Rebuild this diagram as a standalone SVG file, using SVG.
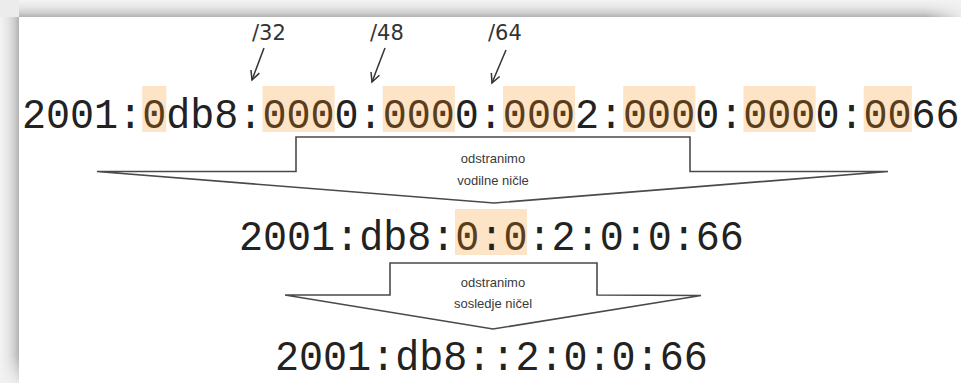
<svg xmlns="http://www.w3.org/2000/svg" width="961" height="383" viewBox="0 0 961 383">
<defs>
  <linearGradient id="gTop" x1="0" y1="0" x2="0" y2="1">
    <stop offset="0" stop-color="#f4f4f4"/>
    <stop offset="0.45" stop-color="#e4e4e4"/>
    <stop offset="0.75" stop-color="#cfcfcf"/>
    <stop offset="1" stop-color="#b2b2b2"/>
  </linearGradient>
  <linearGradient id="gLeft" x1="0" y1="0" x2="1" y2="0">
    <stop offset="0" stop-color="#f4f4f4"/>
    <stop offset="0.45" stop-color="#e4e4e4"/>
    <stop offset="0.75" stop-color="#cfcfcf"/>
    <stop offset="1" stop-color="#b2b2b2"/>
  </linearGradient>
  <linearGradient id="gFadeR" x1="0" y1="0" x2="1" y2="0">
    <stop offset="0" stop-color="#f2f2f2" stop-opacity="0"/>
    <stop offset="1" stop-color="#f2f2f2" stop-opacity="0.85"/>
  </linearGradient>
  <linearGradient id="gFadeB" x1="0" y1="0" x2="0" y2="1">
    <stop offset="0" stop-color="#f2f2f2" stop-opacity="0"/>
    <stop offset="1" stop-color="#f2f2f2" stop-opacity="0.85"/>
  </linearGradient>
  <marker id="ah" viewBox="-11 -6 13 12" markerWidth="13" markerHeight="12" refX="0" refY="0" orient="auto" markerUnits="userSpaceOnUse">
    <path d="M-9,-4.5 L0,0 L-9,4.5" fill="none" stroke="#333" stroke-width="1.5"/>
  </marker>
</defs>
<style>
  .mono{font-family:"Liberation Mono","DejaVu Sans Mono",monospace;font-size:40.08px;fill:#222}
  .hl{fill:#fde4c6}
  .hd{fill:#5a3d1a}
  .lbl{font-family:"Liberation Sans",Arial,sans-serif;font-size:13px;fill:#3a3a3a;text-anchor:middle}
  .pfx{font-family:"DejaVu Sans",sans-serif;font-size:21px;fill:#333}
  .blk{fill:#fff;stroke:#4a4a4a;stroke-width:1.6;stroke-linejoin:miter}
  .ptr{stroke:#333;stroke-width:1.5;fill:none}
</style>

<rect x="0" y="0" width="961" height="383" fill="#fff"/>

<g id="frame">
  <rect x="0" y="0" width="961" height="17" fill="url(#gTop)"/>
  <rect x="0" y="0" width="19" height="383" fill="url(#gLeft)"/>
  <rect x="0" y="0" width="19" height="17" fill="#ececec"/>
  <rect x="925" y="0" width="36" height="17" fill="url(#gFadeR)"/>
  <rect x="0" y="355" width="19" height="28" fill="url(#gFadeB)"/>
</g>

<g id="full-address">
  <rect class="hl" x="142.25" y="86" width="24.05" height="46"/>
  <rect class="hl" x="262.5" y="86" width="72.15" height="46"/>
  <rect class="hl" x="382.75" y="86" width="72.15" height="46"/>
  <rect class="hl" x="503" y="86" width="72.15" height="46"/>
  <rect class="hl" x="623.25" y="86" width="72.15" height="46"/>
  <rect class="hl" x="743.5" y="86" width="72.15" height="46"/>
  <rect class="hl" x="863.75" y="86" width="48.1" height="46"/>
  <text class="mono" x="22" y="0" transform="translate(0,128) scale(1,1.06)">2001:<tspan class="hd">0</tspan>db8:<tspan class="hd">000</tspan>0:<tspan class="hd">000</tspan>0:<tspan class="hd">000</tspan>2:<tspan class="hd">000</tspan>0:<tspan class="hd">000</tspan>0:<tspan class="hd">00</tspan>66</text>
</g>

<g id="prefix-32">
  <text class="pfx" x="252" y="40">/32</text>
</g>
<g id="prefix-48">
  <text class="pfx" x="370" y="40">/48</text>
</g>
<g id="prefix-64">
  <text class="pfx" x="488" y="40">/64</text>
</g>

<g id="step-leading-zeros">
  <polygon class="blk" points="97,171.5 296,171.5 296,137 690,137 690,171.5 888,171.5 494,203"/>
  <text class="lbl" x="493" y="163">odstranimo</text>
  <text class="lbl" x="493" y="185">vodilne ničle</text>
</g>

<g id="short-address">
  <rect class="hl" x="455" y="209" width="72" height="46"/>
  <text class="mono" x="239" y="0" transform="translate(0,250) scale(1,1.06)">2001:db8:<tspan class="hd">0</tspan>:<tspan class="hd">0</tspan>:2:0:0:66</text>
</g>

<g id="step-zero-run">
  <polygon class="blk" points="285,295 390,295 390,263 597,263 597,295 701,295.5 493,329"/>
  <text class="lbl" x="493" y="287">odstranimo</text>
  <text class="lbl" x="493" y="308">sosledje ničel</text>
</g>

<g id="compressed-address">
  <text class="mono" x="275" y="0" transform="translate(0,370) scale(1,1.06)">2001:db8::2:0:0:66</text>
</g>

<g id="connectors">
  <line class="ptr" x1="264" y1="48" x2="252" y2="80" marker-end="url(#ah)"/>
  <line class="ptr" x1="385" y1="48" x2="372" y2="82" marker-end="url(#ah)"/>
  <line class="ptr" x1="506" y1="50" x2="492" y2="83" marker-end="url(#ah)"/>
</g>
</svg>
